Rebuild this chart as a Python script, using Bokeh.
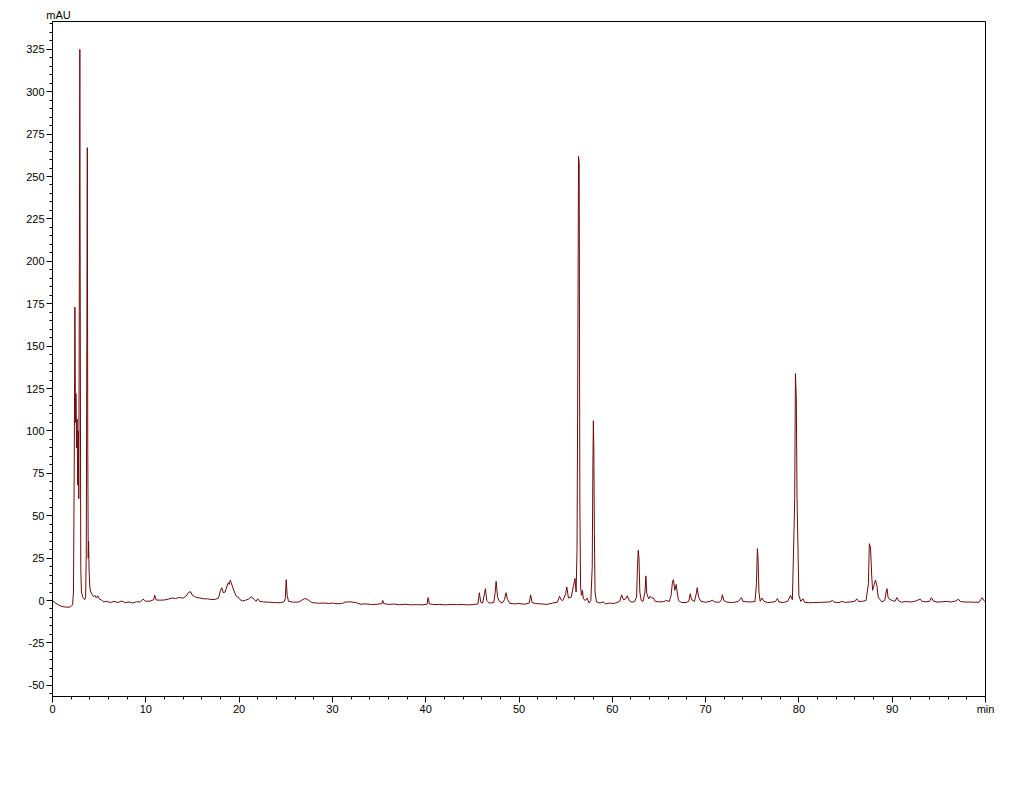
from bokeh.plotting import figure
from bokeh.models import FixedTicker, LinearAxis, Range1d
from bokeh.embed import file_html
from bokeh.resources import INLINE

# Chromatogram trace (retention time in min, signal in mAU)
time_min = [
    0, 0.25, 0.6, 1.0, 1.4, 1.9, 2.15, 2.25, 2.33, 2.40, 2.46, 2.52, 2.58, 2.64, 2.70, 2.76, 2.82, 2.88, 2.93, 2.98,
    3.03, 3.1, 3.25, 3.45, 3.55, 3.62, 3.68, 3.73, 3.78, 3.83, 3.87, 3.92, 4.0, 4.1, 4.25, 4.4, 4.55, 4.7, 4.85, 5.0,
    5.2, 5.5, 5.8, 6.2, 6.6, 7.0, 7.4, 7.8, 8.2, 8.6, 9.0, 9.4, 9.7, 10.0, 10.5, 10.85, 10.95, 11.1, 11.5, 12.0,
    12.4, 12.8, 13.2, 13.6, 14.0, 14.3, 14.6, 14.8, 15.0, 15.2, 15.4, 15.8, 16.2, 16.6, 17.0, 17.4, 17.8, 18.0, 18.15, 18.3,
    18.5, 18.7, 18.85, 18.95, 19.05, 19.15, 19.3, 19.5, 19.7, 19.9, 20.1, 20.4, 20.7, 21.0, 21.3, 21.6, 21.8, 22.0, 22.2, 22.6,
    23.2, 23.8, 24.4, 24.8, 24.95, 25.05, 25.15, 25.3, 25.8, 26.4, 26.8, 27.1, 27.4, 27.8, 28.5, 29.2, 29.6, 30.0, 30.5, 31.0,
    31.4, 32.0, 32.5, 33.0, 33.6, 34.2, 34.8, 35.3, 35.4, 35.5, 36.0, 36.6, 37.2, 37.8, 38.4, 39.0, 39.6, 40.15, 40.25, 40.4,
    40.9, 41.5, 42.1, 42.7, 43.3, 43.9, 44.5, 45.1, 45.6, 45.75, 45.9, 46.1, 46.3, 46.4, 46.55, 46.8, 47.3, 47.45, 47.55, 47.7,
    47.9, 48.2, 48.45, 48.6, 48.75, 49.0, 49.5, 50.0, 50.6, 51.1, 51.25, 51.4, 51.8, 52.4, 53.0, 53.6, 54.1, 54.35, 54.5, 54.7,
    55.0, 55.12, 55.3, 55.6, 55.85, 56.0, 56.12, 56.22, 56.3, 56.38, 56.45, 56.52, 56.6, 56.7, 56.8, 56.9, 57.1, 57.3, 57.5, 57.7,
    57.85, 57.92, 57.97, 58.02, 58.08, 58.15, 58.3, 58.7, 59.0, 59.3, 59.7, 60.1, 60.5, 60.8, 61.0, 61.2, 61.4, 61.6, 61.8, 62.1,
    62.4, 62.6, 62.7, 62.78, 62.86, 62.95, 63.1, 63.3, 63.5, 63.6, 63.7, 63.9, 64.05, 64.2, 64.4, 64.6, 65.0, 65.5, 65.8, 66.1,
    66.3, 66.45, 66.55, 66.7, 66.85, 66.95, 67.1, 67.4, 67.9, 68.2, 68.35, 68.5, 68.8, 69.0, 69.1, 69.25, 69.5, 70.0, 70.5, 70.7,
    71.0, 71.5, 71.7, 71.8, 71.95, 72.3, 72.9, 73.5, 73.85, 74.0, 74.5, 75.0, 75.3, 75.45, 75.55, 75.62, 75.72, 75.85, 76.05, 76.25,
    76.6, 77.1, 77.5, 77.7, 77.85, 78.3, 78.8, 79.1, 79.3, 79.45, 79.55, 79.63, 79.72, 79.8, 79.9, 80.0, 80.2, 80.45, 80.6, 81.0,
    81.6, 82.2, 82.8, 83.3, 83.6, 83.8, 84.3, 84.6, 84.9, 85.5, 86.0, 86.2, 86.4, 86.8, 87.2, 87.45, 87.55, 87.68, 87.8, 87.9,
    88.05, 88.2, 88.35, 88.5, 88.7, 88.9, 89.2, 89.35, 89.45, 89.55, 89.7, 90.0, 90.3, 90.5, 90.7, 91.0, 91.5, 92.0, 92.5, 93.0,
    93.2, 93.6, 94.0, 94.2, 94.4, 94.8, 95.3, 95.8, 96.3, 96.8, 97.1, 97.3, 97.8, 98.3, 98.8, 99.3, 99.5, 99.65, 99.8, 100.0,
]
absorbance_mau = [
    0, -1.2, -2.5, -3.5, -3.9, -3.9, -2.5, 5, 80, 173, 105, 122, 90, 107, 68, 100, 60, 200, 325, 150,
    20, 5, 2, 0.5, 2, 28, 150, 267, 90, 25, 35, 18, 8, 5, 3.5, 2.2, 3, 1.5, 2.8, 1,
    0.5, -0.8, -0.5, -1.2, -0.5, -1.2, -0.3, -1.3, -0.8, -1.5, -0.7, -0.9, 0.8, -0.5, -0.3, 0.5, 3.2, 0.3, 0.2, 0.3,
    0.8, 1.5, 1.2, 1.8, 1.4, 2.5, 4.8, 5.2, 3, 2.5, 1.8, 1.5, 1.0, 1.0, 0.6, 0.6, 1.5, 6, 7.5, 4.5,
    5, 8.5, 10.5, 9.5, 12, 10.5, 8, 5, 2.5, 2.0, 0.5, -0.3, 0.2, 0.8, 2.2, 0.8, -0.5, 1.0, -0.5, -0.8,
    -1.0, -1.2, -1.3, -0.8, 1, 12.3, 3, -0.5, -1.0, -0.9, 0.5, 1.2, 0.3, -1.2, -1.6, -1.5, -1.8, -1.5, -1.9, -1.8,
    -0.9, -0.8, -1.2, -2.2, -2.0, -2.4, -2.2, -1.8, 0, -1.8, -2.3, -2.1, -2.5, -2.2, -2.6, -2.4, -2.6, -2.2, 1.7, -2,
    -2.4, -2.3, -2.6, -2.3, -2.5, -2.3, -2.6, -2.4, -2.0, 4.6, -1.0, -1.5, 4, 7, 0, -1.5, -1.2, 5, 11.3, 2,
    -0.5, -1.5, 0.5, 4.6, 1, -1.6, -2.0, -1.8, -2.2, -1.5, 3.3, -1.2, -1.8, -2.0, -2.3, -1.5, -1.0, 2.5, 0.5, 0,
    4, 8, 1.5, 2, 9, 13, 5, 30, 130, 262, 258, 60, 8, 3, 6, 1, 0, 1.5, -1.5, 0,
    20, 80, 106, 90, 40, 5, -0.8, -1.5, -0.8, -2.0, -1.5, -1.8, -1.2, -0.5, 3.3, 0.5, 0.8, 2.8, 0, -1.0,
    -0.6, 2, 20, 29.6, 25, 5, 0, -0.5, 5, 14.5, 4, 1, 2.5, 1.5, 1.5, -0.5, -0.8, -0.7, 0, -0.5,
    3, 11, 12.3, 6, 9.5, 5, 0, -1.2, -1.2, -0.5, 4, 0.5, -0.5, 4, 7.6, 2, -0.5, -1.0, -0.5, 0.2,
    -0.9, -1.0, 0.5, 3.4, 0, -1.0, -1.2, -0.6, 1.7, -0.5, -0.8, -0.8, -0.5, 10, 30.6, 25, 5, -0.5, 1.5, -0.5,
    -1.2, -1.0, -0.6, 1.2, -0.8, -1.2, -0.5, 3, 0.5, 34.5, 60, 133.8, 119, 60, 31.5, 3, -0.5, 1, -1, -1.3,
    -1.2, -1.1, -1.0, -0.8, 0, -1.0, -1.2, -0.5, -1.1, -0.9, -0.5, 1, -0.5, -0.5, 0, 10, 33.5, 31, 15, 6,
    9, 12, 9, 2, 0.5, -0.8, 0, 5, 7, 2, 0.8, 0, -0.5, 1.7, -0.2, -1.0, -0.6, -0.9, -0.3, 0.8,
    -0.5, -0.8, -0.5, 1.7, -0.3, -0.9, -0.8, -0.5, -0.9, -0.3, 0.8, -0.6, -0.9, -0.9, -1.0, -1.0, 0.5, 1.7, 0.2, -0.9,
]

x_major_ticks = [0, 10, 20, 30, 40, 50, 60, 70, 80, 90, 100]
y_major_ticks = [-50, -25, 0, 25, 50, 75, 100, 125, 150, 175, 200, 225, 250, 275, 300, 325]
y_unit_label = "mAU"
x_unit_label = "min"

FONT = "Liberation Sans"
LINE_COLOR = "#6e0a0a"

p = figure(
    width=1000, height=770,
    x_range=Range1d(0, 100), y_range=Range1d(-56.6, 341.4),
    output_backend="svg", toolbar_location=None,
    min_border_left=52, min_border_right=15, min_border_top=21, min_border_bottom=74,
)
p.background_fill_color = "white"
p.border_fill_color = "white"
p.xgrid.visible = False
p.ygrid.visible = False
p.outline_line_color = "black"
p.outline_line_width = 1
p.outline_line_alpha = 1

p.line(time_min, absorbance_mau, line_color=LINE_COLOR, line_width=1)

p.xaxis.ticker = FixedTicker(ticks=x_major_ticks, minor_ticks=list(range(0, 101, 2)))
p.xaxis.major_label_overrides = {t: ("" if t == 100 else str(t)) for t in x_major_ticks}
p.yaxis.ticker = FixedTicker(ticks=y_major_ticks, minor_ticks=list(range(-55, 341, 5)))
p.yaxis.major_label_overrides = {t: str(t) for t in y_major_ticks}

for ax in (p.xaxis[0], p.yaxis[0]):
    ax.axis_line_color = "black"
    ax.axis_line_width = 1
    ax.major_tick_line_color = "black"
    ax.minor_tick_line_color = "black"
    ax.major_tick_out = 6
    ax.major_tick_in = 0
    ax.minor_tick_out = 3
    ax.minor_tick_in = 0
    ax.major_label_text_font = FONT
    ax.major_label_text_font_size = "11px"
    ax.major_label_text_color = "black"
    ax.major_label_standoff = 2

# unit of the time axis, written at the right end of the tick-label row
xa = p.xaxis[0]
xa.axis_label = x_unit_label
xa.axis_label_text_font = FONT
xa.axis_label_text_font_size = "11px"
xa.axis_label_text_font_style = "normal"
xa.axis_label_text_color = "black"
xa.axis_label_text_align = "right"
xa.axis_label_standoff = -13
try:
    xa.axis_label_align = "end"
except AttributeError:
    pass

# unit of the signal axis, written above the top-left corner of the frame
unit_axis = LinearAxis(
    ticker=FixedTicker(ticks=[0.64], minor_ticks=[]),
    major_label_overrides={0.64: y_unit_label},
    axis_line_color=None, major_tick_line_color=None, minor_tick_line_color=None,
    major_tick_out=0, major_tick_in=0, minor_tick_out=0, minor_tick_in=0,
    major_label_standoff=1,
    major_label_text_font=FONT, major_label_text_font_size="11px",
    major_label_text_color="black",
)
p.add_layout(unit_axis, "above")

open("out.html", "w").write(file_html(p, INLINE))
